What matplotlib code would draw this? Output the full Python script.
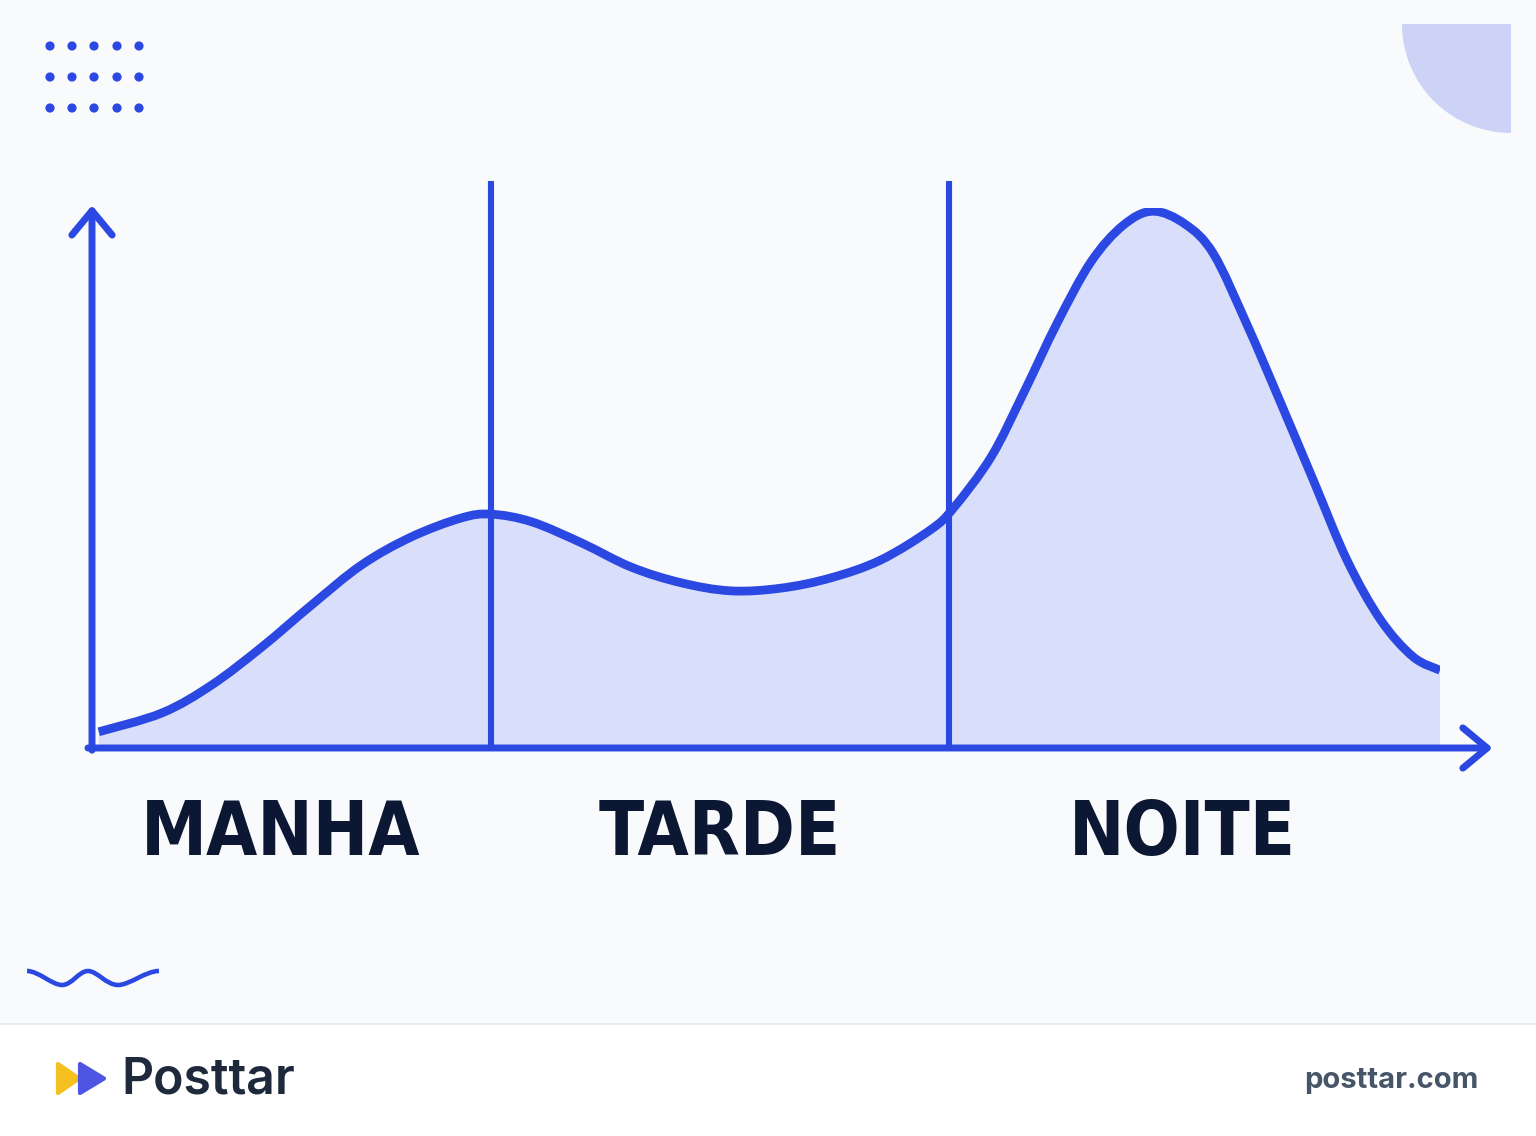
import matplotlib.pyplot as plt
from matplotlib.patches import Rectangle, Wedge, Polygon, Circle, PathPatch
from matplotlib.path import Path
import numpy as np

# activity curve over the day (x: 0-100 along the day, y: 0-100 level)
day_x = [0.5, 5.2, 8.9, 12.6, 16.3, 20.0, 23.7, 27.4, 29.6, 32.6, 36.3, 40.0,
         43.7, 47.4, 51.1, 54.8, 58.5, 62.2, 63.9, 66.7, 69.1, 71.6, 74.1,
         76.5, 78.7, 81.1, 83.2, 85.7, 88.1, 90.6, 93.1, 95.6, 98.0, 100.0]
level = [3.0, 6.5, 11.7, 18.7, 26.5, 33.9, 39.1, 42.6, 43.3, 41.9, 38.0, 33.5,
         30.6, 29.1, 29.6, 31.5, 34.8, 40.4, 44.4, 53.9, 65.7, 78.7, 90.0,
         96.8, 99.4, 97.0, 91.5, 78.3, 64.4, 49.6, 34.8, 23.7, 16.9, 14.4]

dividers = [29.6, 63.6]
periods = ["MANHA", "TARDE", "NOITE"]
period_x = [14.0, 46.6, 80.9]

blue = "#2b49e2"
fill = "#d9dffa"
navy = "#0c1733"


def smooth_path(xs, ys, flat_ends=False):
    # catmull-rom through the points, written as cubic bezier segments
    p = np.column_stack([xs, ys]).astype(float)
    if flat_ends:
        a = np.array([2 * p[0, 0] - p[1, 0], p[1, 1]])
        b = np.array([2 * p[-1, 0] - p[-2, 0], p[-2, 1]])
    else:
        a, b = p[0], p[-1]
    p = np.vstack([a, p, b])
    verts = [p[1]]
    codes = [Path.MOVETO]
    for i in range(1, len(p) - 2):
        c1 = p[i] + (p[i + 1] - p[i - 1]) / 6
        c2 = p[i + 1] - (p[i + 2] - p[i]) / 6
        verts += [c1, c2, p[i + 1]]
        codes += [Path.CURVE4] * 3
    return verts, codes


W, H = 1536, 1136
fig = plt.figure(figsize=(W / 100, H / 100), dpi=100)
fig.patch.set_facecolor("#f9fafc")

# background / decoration layer in pixel coords
bg = fig.add_axes([0, 0, 1, 1])
bg.set_xlim(0, W)
bg.set_ylim(H, 0)
bg.axis("off")
bg.add_patch(Rectangle((0, 1024), W, H - 1024, color="white", zorder=0))
bg.plot([0, W], [1024, 1024], color="#e6e8ee", lw=1.2)

for yy in [46, 77, 108]:
    for xx in [50, 72, 94, 117, 139]:
        bg.add_patch(Circle((xx, yy), 4.6, color=blue, lw=0))

bg.add_patch(Wedge((1511, 24), 109, 90, 180, color="#ccd3f7", lw=0))

wave_x = [27, 62, 88, 118, 159]
wave_y = [971, 985, 971, 985, 971]
wv, wc = smooth_path(wave_x, wave_y, flat_ends=True)
bg.add_patch(PathPatch(Path(wv, wc), facecolor="none", edgecolor=blue, lw=3.3,
                       capstyle="butt"))

# logo
bg.add_patch(Polygon([(58, 1064), (58, 1093), (79, 1078.5)], closed=True,
                     facecolor="#f4bf1f", edgecolor="#f4bf1f", lw=3, joinstyle="round"))
bg.add_patch(Polygon([(80, 1064), (80, 1093), (104, 1078.5)], closed=True,
                     facecolor="#4f55e3", edgecolor="#4f55e3", lw=3, joinstyle="round"))
bg.text(121, 1080, "Posttar", fontsize=36, fontweight="semibold", family="Inter",
        color="#1e293b", va="center", ha="left")
bg.text(1479, 1081, "posttar.com", fontsize=21, fontweight="bold", family="Inter",
        color="#475569", va="center", ha="right")

# chart
ax = fig.add_axes([92 / W, 1 - 748 / H, 1348 / W, 540 / H])
ax.set_xlim(0, 100)
ax.set_ylim(0, 100)
ax.axis("off")
ax.patch.set_alpha(0)

cv, cc = smooth_path(day_x, level)
fv = cv + [(day_x[-1], 0), (day_x[0], 0), cv[0]]
fcodes = cc + [Path.LINETO, Path.LINETO, Path.CLOSEPOLY]
ax.add_patch(PathPatch(Path(fv, fcodes), facecolor=fill, lw=0, zorder=1))
ax.add_patch(PathPatch(Path(cv, cc), facecolor="none", edgecolor=blue, lw=6.3,
                       capstyle="butt", joinstyle="round", zorder=3))
ax.vlines(dividers, 0, 105, color=blue, lw=4.4, zorder=2, clip_on=False)

arrow = dict(arrowstyle="->, head_length=1.75, head_width=1.45", color=blue, lw=5,
             shrinkA=0, shrinkB=0, capstyle="round", joinstyle="round")
ax.annotate("", xy=(0, 1.005), xytext=(0, -0.004), xycoords="axes fraction",
            arrowprops=arrow, zorder=4)
ax.annotate("", xy=(1.039, 0), xytext=(-0.003, 0), xycoords="axes fraction",
            arrowprops=arrow, zorder=4)

for name, px in zip(periods, period_x):
    ax.text(px, -16.0, name, fontsize=53, fontweight="bold", fontstretch="condensed",
            family="DejaVu Sans", color=navy,
            ha="center", va="center", clip_on=False)

fig.savefig("out.png", dpi=100, facecolor=fig.get_facecolor())
